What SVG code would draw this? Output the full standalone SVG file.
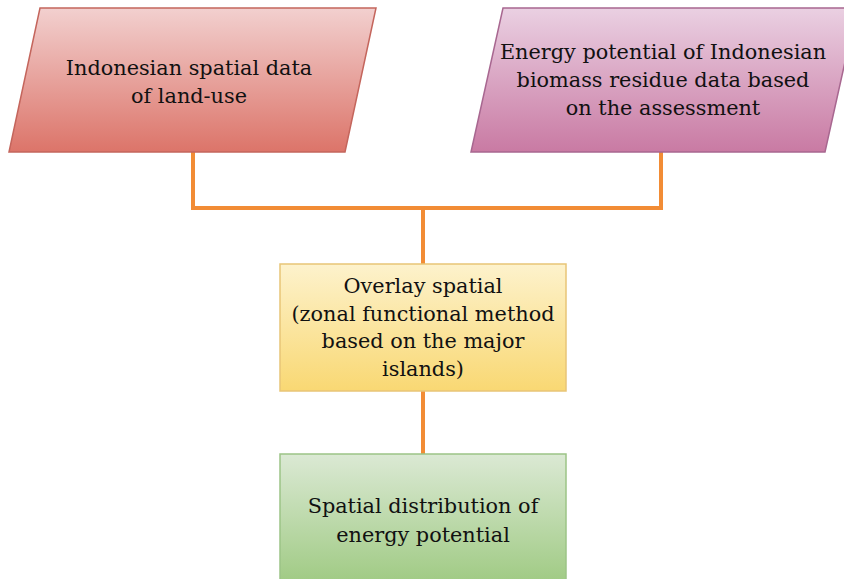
<svg xmlns="http://www.w3.org/2000/svg" width="844" height="579" viewBox="0 0 844 579">
<defs>
<linearGradient id="gRed" x1="0" y1="0" x2="0" y2="1"><stop offset="0" stop-color="#f2d0cf"/><stop offset="1" stop-color="#dc7469"/></linearGradient>
<linearGradient id="gPur" x1="0" y1="0" x2="0" y2="1"><stop offset="0" stop-color="#ead0e2"/><stop offset="1" stop-color="#c97aa3"/></linearGradient>
<linearGradient id="gYel" x1="0" y1="0" x2="0" y2="1"><stop offset="0" stop-color="#fdf2cc"/><stop offset="1" stop-color="#f9d873"/></linearGradient>
<linearGradient id="gGrn" x1="0" y1="0" x2="0" y2="1"><stop offset="0" stop-color="#dbe9d4"/><stop offset="1" stop-color="#9dc980"/></linearGradient>
<style>
text{font-family:"DejaVu Serif","Liberation Serif",serif;font-size:20.8px;fill:#111;text-anchor:middle}
.c{fill:none;stroke:#f28c35;stroke-width:4}
</style>
</defs>
<g id="connectors">
<polyline class="c" points="193,152 193,208 661,208 661,152"/>
<line class="c" x1="423" y1="208" x2="423" y2="265"/>
<line class="c" x1="423" y1="390" x2="423" y2="455"/>
</g>
<g id="n1">
<polygon points="40,8 376,8 345,152 9,152" fill="url(#gRed)" stroke="#c4655c" stroke-width="1.5"/>
<text x="189" y="75">Indonesian spatial data</text>
<text x="189" y="103">of land-use</text>
</g>
<g id="n2">
<polygon points="503,8 857,8 825,152 471,152" fill="url(#gPur)" stroke="#a86790" stroke-width="1.5"/>
<text x="663" y="59">Energy potential of Indonesian</text>
<text x="663" y="87">biomass residue data based</text>
<text x="663" y="115">on the assessment</text>
</g>
<g id="n3">
<rect x="280" y="264" width="286" height="127" fill="url(#gYel)" stroke="#e8c577" stroke-width="1.5"/>
<text x="423" y="293">Overlay spatial</text>
<text x="423" y="321">(zonal functional method</text>
<text x="423" y="348">based on the major</text>
<text x="423" y="376">islands)</text>
</g>
<g id="n4">
<rect x="280" y="454" width="286" height="135" fill="url(#gGrn)" stroke="#9cc486" stroke-width="1.5"/>
<text x="423" y="513">Spatial distribution of</text>
<text x="423" y="542">energy potential</text>
</g>
</svg>
